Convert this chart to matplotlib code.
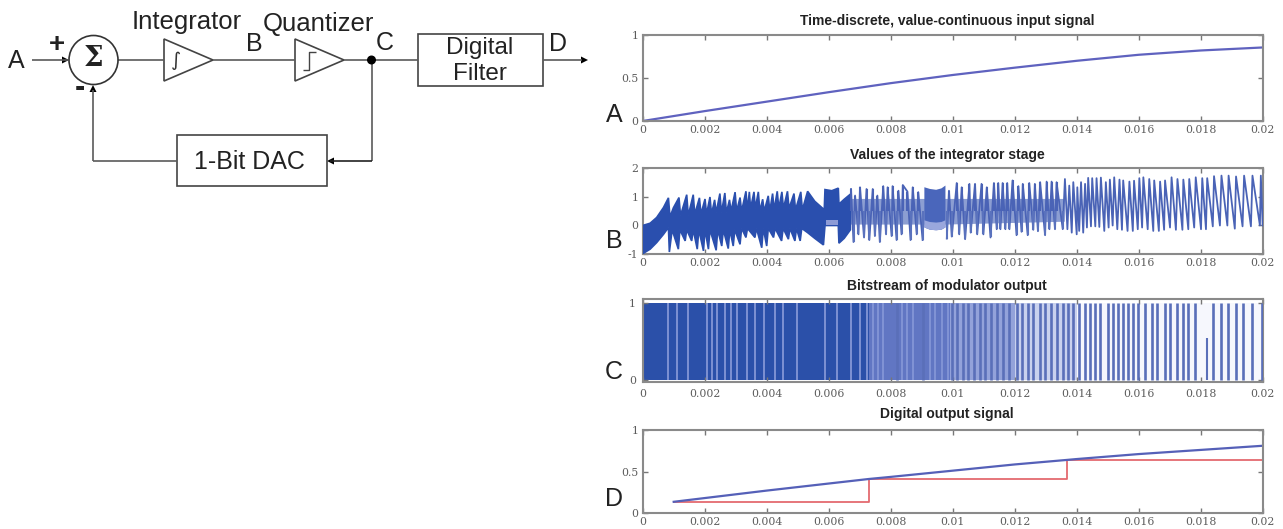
import numpy as np
import matplotlib
matplotlib.use("Agg")
import matplotlib.pyplot as plt
from matplotlib.patches import Rectangle, Circle, Polygon

W, H = 1283, 529
SANS = "Liberation Sans"
SERIF = "DejaVu Serif"

# ---------- data (time in ms) ----------
x_ticks_ms = [0, 2, 4, 6, 8, 10, 12, 14, 16, 18, 20]
x_tick_labels = ["0", "0.002", "0.004", "0.006", "0.008", "0.01", "0.012", "0.014", "0.016", "0.018", "0.02"]

titles = ["Time-discrete, value-continuous input signal", "Values of the integrator stage",
          "Bitstream of modulator output", "Digital output signal"]

a_t = [0, 2, 4, 6, 8, 10, 12, 14, 16, 18, 20]
a_v = [0, .115, .225, .335, .44, .535, .62, .70, .77, .82, .855]

d_t = [1, 2, 4, 6, 7.3, 8, 10, 12, 13.7, 14, 16, 18, 20]
d_v = [.135, .18, .27, .355, .41, .435, .51, .585, .64, .65, .71, .76, .81]
d_step_t = [1, 7.3, 7.3, 13.7, 13.7, 20]
d_step_v = [.135, .135, .41, .41, .64, .64]

# integrator: dense envelope up to 6.7 ms
b_hi_t = [0, .24, .45, .67, .83, .88, .99, 1.17, 1.22, 1.42, 1.47, 1.63, 1.68, 1.83, 1.88, 2.01, 2.06, 2.17, 2.22,
          2.32, 2.37, 2.49, 2.54, 2.65, 2.70, 2.80, 2.85, 2.98, 3.03, 3.14, 3.19, 3.33, 3.38, 3.44, 3.48, 3.59, 3.63,
          3.73, 3.78, 3.87, 3.92, 4.05, 4.10, 4.19, 4.24, 4.34, 4.39, 4.49, 4.54, 4.67, 4.72, 4.88, 4.93, 5.10, 5.15,
          5.32, 5.55, 5.83, 5.85, 5.88, 6.10, 6.31, 6.33, 6.50, 6.70]
b_hi_v = [0, .08, .28, .63, .97, .3, .62, .98, .35, 1.08, .35, 1.08, .4, .97, .4, .93, .4, 1.0, .4,
          .9, .45, 1.12, .45, 1.14, .45, .9, .5, 1.17, .5, .98, .5, 1.2, .55, 1.18, .6, 1.18, .6,
          1.18, .5, .92, .5, 1.04, .5, 1.12, .55, 1.2, .6, 1.18, .6, 1.2, .6, 1.12, .55, 1.18, .55,
          1.2, .85, .58, .35, 1.26, 1.22, 1.31, .75, .92, 1.1]
b_lo_t = [0, .24, .45, .67, .83, .86, .95, 1.15, 1.2, 1.37, 1.42, 1.58, 1.63, 1.76, 1.81, 1.96, 2.01, 2.12, 2.17,
          2.37, 2.42, 2.55, 2.6, 2.76, 2.81, 2.92, 2.97, 3.14, 3.19, 3.33, 3.38, 3.62, 3.67, 3.84, 3.89, 4.0, 4.05,
          4.22, 4.27, 4.48, 4.53, 4.70, 4.75, 4.91, 4.96, 5.08, 5.13, 5.32, 5.55, 5.83, 5.88, 6.31, 6.33, 6.50, 6.70]
b_lo_v = [-.99, -.83, -.6, -.31, -.07, -.93, -.15, -.83, -.15, -.54, -.15, -.54, -.15, -.83, -.15, -.89, -.15, -.83, -.15,
          -.87, -.15, -.72, -.15, -.81, -.15, -.72, -.15, -.66, -.1, -.42, -.1, -.42, -.1, -.78, -.1, -.72, -.1,
          -.42, -.1, -.54, -.1, -.48, -.1, -.54, -.1, -.54, -.1, -.25, -.45, -.68, 0, 0, -.62, -.45, -.15]

# integrator: individually visible teeth (first group ends before the 9.07-9.75 ms block)
b_peak_t = [6.72, 6.85, 7.01, 7.22, 7.42, 7.57, 7.76, 7.90, 8.06, 8.25, 8.39, 8.54, 8.71, 8.89,
            9.88, 10.13, 10.29, 10.54, 10.72, 10.93, 11.10, 11.33, 11.47, 11.61, 11.76, 11.93, 12.12, 12.26,
            12.47, 12.65, 12.82, 13.03, 13.19, 13.35,
            13.62, 13.76, 13.89, 14.02, 14.14, 14.27, 14.37, 14.50, 14.64, 14.78, 14.94, 15.07, 15.21, 15.38,
            15.50, 15.70, 15.85, 16.02, 16.15, 16.34, 16.50, 16.69, 16.85, 17.06, 17.25, 17.44, 17.63, 17.84,
            18.05, 18.21, 18.43, 18.67, 18.90, 19.14, 19.40, 19.67, 19.94]
b_peak_v = [1.28, 1.05, 1.34, 1.28, 1.28, 1.05, 1.38, 1.34, 1.38, 1.22, 1.42, 1.19, 1.34, 1.17,
            1.22, 1.49, 1.34, 1.46, 1.46, 1.46, 1.34, 1.49, 1.49, 1.49, 1.49, 1.58, 1.38, 1.46,
            1.49, 1.46, 1.52, 1.54, 1.54, 1.52,
            1.63, 1.40, 1.52, 1.34, 1.52, 1.46, 1.67, 1.66, 1.66, 1.68, 1.52, 1.61, 1.69, 1.61,
            1.58, 1.54, 1.57, 1.66, 1.69, 1.63, 1.58, 1.54, 1.58, 1.69, 1.63, 1.61, 1.63, 1.69,
            1.66, 1.66, 1.73, 1.75, 1.75, 1.72, 1.75, 1.75, 1.75]
b_low_t = [6.80, 6.96, 7.14, 7.31, 7.49, 7.65, 7.85, 8.03, 8.19, 8.35, 8.64, 8.84, 9.03,
           9.81, 9.97, 10.21, 10.40, 10.58, 10.79, 10.99, 11.22, 11.42, 11.54, 11.70, 11.83, 12.06, 12.22, 12.42, 12.60,
           12.75, 12.98, 13.12, 13.30, 13.55,
           13.70, 13.84, 14.0, 14.08, 14.21, 14.33, 14.46, 14.60, 14.73, 14.89, 15.03, 15.16, 15.31, 15.46,
           15.64, 15.81, 15.97, 16.11, 16.29, 16.47, 16.65, 16.82, 17.01, 17.20, 17.41, 17.60, 17.79, 18.01,
           18.17, 18.39, 18.62, 18.86, 19.10, 19.35, 19.62, 19.91, 20.0]
b_low_v = [-.58, -.31, -.42, -.51, -.37, -.58, -.31, -.37, -.51, -.31, -.51, -.31, -.51,
           -.46, -.39, -.31, -.48, -.25, -.31, -.31, -.42, -.13, -.13, -.13, -.13, -.34, -.22, -.34, -.15,
           -.2, -.34, -.13, -.13, -.13,
           -.13, -.25, -.31, -.19, -.25, -.07, -.03, -.03, -.05, -.19, -.07, 0, -.13, -.15,
           -.19, -.19, -.13, -.07, -.13, -.19, -.19, -.15, -.07, -.15, -.15, -.13, -.07, -.13,
           -.13, -.03, 0, 0, -.11, -.03, -.03, 0, 0]
b_block_t = [9.07, 9.25, 9.45, 9.62, 9.75]
b_block_hi = [1.36, 1.30, 1.27, 1.32, 1.42]
b_block_lo = [-.05, -.13, -.15, -.13, -.05]
b_block_light = [.2, .14, .12, .14, .2]
b_core_t = [6.70, 9.07, 9.75, 13.6]
b_core_hi = [.95, .95, .95, .95]
b_core_lo = [.05, .05, .05, .15]

# bitstream
c_band_t = [0, 7.3, 9.9, 12.0, 14.0]
c_band_end = [7.3, 9.9, 12.0, 14.0, 20.0]
c_band_col = ["#2b50a9", "#6176c3", "#93a2da", "#c9d1ee", "#f6f7fd"]
c_light_t = [.80, 1.12, 1.47, 2.06, 2.23, 2.41, 2.66, 2.84, 3.03, 3.35, 3.62, 3.91, 4.27, 4.54, 4.97, 5.88, 6.26,
             6.71, 7.01, 7.23, 7.42, 7.60, 7.76, 8.35, 8.52, 8.73, 9.27, 9.43, 9.65, 9.86]
c_dark_t = [8.19, 9.03, 9.97, 10.13, 10.32, 10.50, 10.69, 10.88, 11.04, 11.22, 11.42, 11.63, 11.80, 12.06, 12.22,
            12.44, 12.60, 12.80, 12.98, 13.17, 13.35, 13.55, 13.73, 13.89, 14.07, 14.27, 14.43, 14.59, 14.75,
            15.02, 15.18, 15.34, 15.50, 15.67, 15.83, 15.99, 16.20, 16.42, 16.60, 16.85, 17.01, 17.22, 17.44,
            17.60, 17.82, 18.41, 18.64, 18.89, 19.14, 19.38, 19.64, 19.97]
c_short_t = [18.19]
c_short_top = [.55]

# ---------- figure ----------
fig = plt.figure(figsize=(W / 100, H / 100), dpi=100, facecolor="white")


def make_axes(top, bottom, ylim, yticks, ylabels, title, title_y, pad=3):
    ax = fig.add_axes([642.7 / W, 1 - bottom / H, 620 / W, (bottom - top) / H])
    ax.set_xlim(0, 20)
    ax.set_ylim(*ylim)
    ax.set_xticks(x_ticks_ms, x_tick_labels)
    ax.set_yticks(yticks, ylabels)
    ax.tick_params(direction="in", top=True, right=True, length=3.5, width=1, color="#777777",
                   labelcolor="#5c5c5c", labelsize=7.8, pad=pad)
    for lab in ax.get_xticklabels() + ax.get_yticklabels():
        lab.set_fontfamily(SERIF)
    for s in ax.spines.values():
        s.set_color("#8a8a8a")
        s.set_linewidth(1.5)
    fig.text(947 / W, 1 - title_y / H, title, ha="center", va="center", family=SANS,
             weight="bold", fontsize=10, color="#222222")
    return ax


ax_a = make_axes(35, 121, (0, 1), [0, .5, 1], ["0", "0.5", "1"], titles[0], 21)
ax_b = make_axes(168.5, 254, (-1, 2), [-1, 0, 1, 2], ["-1", "0", "1", "2"], titles[1], 155)
ax_c = make_axes(299, 382, (-.026, 1.052), [0, 1], ["0", "1"], titles[2], 286, pad=5)
ax_d = make_axes(430, 513, (0, 1), [0, .5, 1], ["0", "0.5", "1"], titles[3], 414)

# A
ax_a.plot(a_t, a_v, color="#5f62bf", lw=1.6)

# B
DARK = "#2a4fae"
poly_t = np.r_[b_hi_t, np.array(b_lo_t)[::-1]]
poly_v = np.r_[b_hi_v, np.array(b_lo_v)[::-1]]
ax_b.fill(poly_t, poly_v, color=DARK, lw=1.2, joinstyle="miter", zorder=3)
ax_b.fill_between([5.90, 6.31], [.02, .02], [.18, .18], color="#8d9bd6", lw=0, zorder=4)
ax_b.fill_between(b_core_t, b_core_lo, b_core_hi, color="#3f5db5", alpha=.6, lw=0, zorder=2)
ax_b.fill_between(b_block_t, b_block_lo, b_block_hi, color="#4a66bb", lw=0, zorder=3)
ax_b.fill_between(b_block_t, b_block_lo, b_block_light, color="#9aa7dd", lw=0, zorder=3)
zig_t = np.r_[b_peak_t, b_low_t]
zig_v = np.r_[b_peak_v, b_low_v]
order = np.argsort(zig_t)
zig_t, zig_v = zig_t[order], zig_v[order]
before = zig_t < b_block_t[0]
after = zig_t > b_block_t[-1]
ax_b.plot(zig_t[before], zig_v[before], color="#4a63b6", lw=1.3, zorder=4)
ax_b.plot(zig_t[after], zig_v[after], color="#4a63b6", lw=1.3, zorder=4)
ax_b.vlines(b_peak_t[:34], .5, b_peak_v[:34], color="#4a63b6", lw=1.5, zorder=4)
ax_b.vlines(b_low_t[:34], b_low_v[:34], .5, color="#5a72bd", lw=1.5, zorder=4)

# C
for t0, t1, col in zip(c_band_t, c_band_end, c_band_col):
    ax_c.fill_between([t0, t1], [0, 0], [1, 1], color=col, lw=0, zorder=1)
ax_c.vlines(c_light_t, 0, 1, color="#8496d6", lw=1.3, zorder=2)
ax_c.vlines(c_dark_t, 0, 1, color="#5a6fb9", lw=1.9, zorder=3)
ax_c.vlines(c_short_t, 0, c_short_top, color="#5a6fb9", lw=1.5, zorder=3)

# D
ax_d.plot(d_step_t, d_step_v, color="#e46a6f", lw=1.3)
ax_d.plot(d_t, d_v, color="#5560b8", lw=1.6)

# ---------- block diagram and letters, on a pixel overlay ----------
ov = fig.add_axes([0, 0, 1, 1], facecolor="none")
ov.set_xlim(0, W)
ov.set_ylim(H, 0)
ov.axis("off")
LC = "#5a5a5a"
LW = 1.2


def seg(xs, ys, c=LC, lw=LW):
    ov.plot(xs, ys, color=c, lw=lw, solid_capstyle="butt")


def head(x, y, dx, dy):
    ov.add_patch(Polygon([(x, y), (x - 7 * dx + 3.5 * dy, y - 7 * dy + 3.5 * dx),
                          (x - 7 * dx - 3.5 * dy, y - 7 * dy - 3.5 * dx)], closed=True, color="black", lw=0))


def label(x, y, s, size=17, **kw):
    ov.text(x, y, s, ha="center", va="center", fontsize=size, family=kw.pop("family", SANS),
            color="#222222", **kw)


seg([32, 68], [60, 60])
head(69, 60, 1, 0)
ov.add_patch(Circle((93.5, 60), 24.5, fc="white", ec="#333333", lw=1.2, zorder=3))
seg([118, 164], [60, 60])
ov.add_patch(Polygon([(164, 39), (164, 81), (213, 60)], closed=True, fc="white", ec="#444444", lw=1.2))
seg([213, 295], [60, 60])
ov.add_patch(Polygon([(295, 39), (295, 81), (344, 60)], closed=True, fc="white", ec="#444444", lw=1.2))
seg([344, 418], [60, 60])
ov.add_patch(Circle((371.5, 60), 3.8, color="black", zorder=4))
ov.add_patch(Rectangle((418, 34), 125, 52, fc="white", ec="#444444", lw=1.2))
seg([543, 582], [60, 60])
head(588, 60, 1, 0)
seg([371.5, 371.5], [60, 161])
seg([371.5, 330], [161, 161], c="#222222")
head(327, 161, -1, 0)
ov.add_patch(Rectangle((176.5, 135), 150, 51, fc="white", ec="#444444", lw=1.2))
seg([176.5, 93], [161, 161])
seg([93, 93], [161, 90])
head(93, 85, 0, -1)
ov.text(176, 60, "\u222b", ha="center", va="center", fontsize=14, color="#333333", family="DejaVu Sans")
seg([303, 309, 309, 316], [70, 70, 52, 52], c="#444444", lw=1)

label(93.5, 59, "\u03a3", size=20, weight="bold", family="DejaVu Serif", zorder=5)
label(57, 45, "+", size=20, weight="bold")
label(80, 88, "-", size=22, weight="bold")
label(187, 22, "Integrator", size=18.5)
label(318, 24, "Quantizer", size=18.5)
label(480, 48, "Digital", size=17.5)
label(480, 74, "Filter", size=17.5)
label(249, 162, "1-Bit DAC", size=18)
for x, y, s in [(16, 61, "A"), (254, 44, "B"), (385, 43, "C"), (558, 44, "D"),
                (614, 115, "A"), (614, 241, "B"), (614, 372, "C"), (614, 499, "D")]:
    label(x, y, s, size=18)

fig.savefig("out.png", dpi=100)
